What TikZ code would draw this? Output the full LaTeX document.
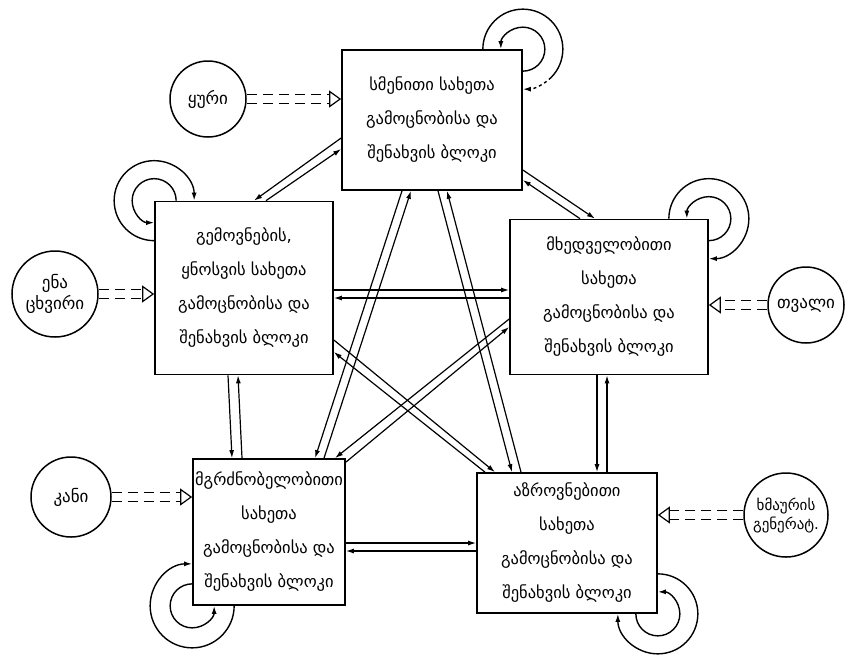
\documentclass[tikz,border=0pt]{standalone}
\usepackage{fontspec}
\setmainfont{DejaVu Sans}
\usetikzlibrary{arrows.meta,decorations.markings,positioning}

\begin{document}
\begin{tikzpicture}[
        x=1pt, y=1pt,
        font=\fontsize{16.5}{34}\selectfont,
        >={Latex[length=8pt,width=5pt]},
        block/.style={
            rectangle,
            draw,
            line width=1.7pt,
            align=center,
            inner sep=0pt
        },
        organ/.style={
            circle,
            draw,
            line width=1.5pt,
            align=center,
            inner sep=0pt,
            font=\fontsize{17}{21}\selectfont
        },
        link/.style={
            ->,
            line width=1.2pt
        },
        loopline/.style={
            line width=1.4pt
        },
        feed/.style={
            preaction={draw, dash pattern=on 10pt off 6pt, line width=1.2pt,
                shorten >=11pt, transform canvas={yshift=4.5pt}},
            preaction={draw, dash pattern=on 10pt off 6pt, line width=1.2pt,
                shorten >=11pt, transform canvas={yshift=-4.5pt}},
            postaction={decorate, decoration={markings, mark=at position 1 with
                {\arrow[line width=1.2pt]{Triangle[open, length=12pt, width=17pt]}}}}
        }
    ]
    \useasboundingbox (0,0) rectangle (845,-657);
    % Recognition blocks
    \node[block, minimum width=180pt, minimum height=140pt] (sound) at (432,-120)
        {სმენითი სახეთა\\გამოცნობისა და\\შენახვის ბლოკი};
    \node[block, minimum width=178pt, minimum height=173pt] (taste) at (244,-288)
        {გემოვნების,\\ყნოსვის სახეთა\\გამოცნობისა და\\შენახვის ბლოკი};
    \node[block, minimum width=198pt, minimum height=155pt] (vision) at (609,-297)
        {მხედველობითი\\სახეთა\\გამოცნობისა და\\შენახვის ბლოკი};
    \node[block, minimum width=152pt, minimum height=146pt] (touch) at (269,-532)
        {მგრძნობელობითი\\სახეთა\\გამოცნობისა და\\შენახვის ბლოკი};
    \node[block, minimum width=180pt, minimum height=140pt] (think) at (567,-543)
        {აზროვნებითი\\სახეთა\\გამოცნობისა და\\შენახვის ბლოკი};
    % Inputs
    \node[organ, minimum size=76pt] (ear) at (208,-99) {ყური};
    \node[organ, minimum size=86pt] (nose) at (55,-294) {ენა\\ცხვირი};
    \node[organ, minimum size=80pt] (skin) at (71,-497) {კანი};
    \node[organ, minimum size=76pt] (eye) at (806,-305) {თვალი};
    \node[organ, minimum size=84pt, font=\fontsize{15}{19}\selectfont] (noise) at (786,-515)
        {ხმაურის\\გენერატ.};
    % Input arrows
    \path[feed] (ear.east) -- (ear.east -| sound.west);
    \path[feed] (nose.east) -- (nose.east -| taste.west);
    \path[feed] (skin.east) -- (skin.east -| touch.west);
    \path[feed] (eye.west) -- (eye.west -| vision.east);
    \path[feed] (noise.west) -- (noise.west -| think.east);
    % Links between blocks
    \draw[link] ([yshift=-18pt]sound.west) -- ([xshift=10pt]taste.north);
    \draw[link] ([xshift=22pt]taste.north) -- ([yshift=-29pt]sound.west);
    \draw[link] ([yshift=-50pt]sound.east) -- ([xshift=-14pt]vision.north);
    \draw[link] ([xshift=-29pt]vision.north) -- ([yshift=-60pt]sound.east);
    \draw[link] ([xshift=-30pt]sound.south) -- ([xshift=46pt]touch.north);
    \draw[link] ([xshift=55pt]touch.north) -- ([xshift=-21pt]sound.south);
    \draw[link] ([xshift=6pt]sound.south) -- ([xshift=-55pt]think.north);
    \draw[link] ([xshift=-46pt]think.north) -- ([xshift=15pt]sound.south);
    \draw[link] ([yshift=-2pt]taste.east) -- ([yshift=-2pt]taste.east -| vision.west);
    \draw[link] ([yshift=-10pt]taste.east -| vision.west) -- ([yshift=-10pt]taste.east);
    \draw[link] ([xshift=-16pt]taste.south) -- ([xshift=-37pt]touch.north);
    \draw[link] ([xshift=-27pt]touch.north) -- ([xshift=-6pt]taste.south);
    \draw[link] ([yshift=-52pt]taste.east) -- ([xshift=-72pt]think.north);
    \draw[link] ([xshift=-82pt]think.north) -- ([yshift=-64pt]taste.east);
    \draw[link] ([yshift=-22pt]vision.west) -- ([xshift=66pt]touch.north);
    \draw[link] ([yshift=-4pt]touch.north east) -- ([yshift=-30pt]vision.west);
    \draw[link] ([xshift=-12pt]vision.south) -- ([xshift=30pt]think.north);
    \draw[link] ([xshift=40pt]think.north) -- ([xshift=-2pt]vision.south);
    \draw[link] ([yshift=-11pt]touch.east) -- ([yshift=-11pt]touch.east -| think.west);
    \draw[link] ([yshift=-19pt]touch.east -| think.west) -- ([yshift=-19pt]touch.east);
    % Self loops
    \draw[loopline] ([xshift=-40pt]sound.north east) arc[start angle=180, end angle=-45, radius=40pt];
    \draw[loopline, ->, dashed] ([shift={(-45:40pt)}]sound.north east) arc[start angle=-45, end angle=-90, radius=40pt];
    \draw[loopline, ->] ([yshift=-22pt]sound.north east) arc[start angle=-90, end angle=180, radius=22pt];
    \draw[loopline, ->] ([yshift=-40pt]taste.north west) arc[start angle=270, end angle=0, radius=40pt];
    \draw[loopline, ->] ([xshift=22pt]taste.north west) arc[start angle=0, end angle=270, radius=22pt];
    \draw[loopline, ->] ([xshift=-40pt]vision.north east) arc[start angle=180, end angle=-90, radius=40pt];
    \draw[loopline, ->] ([yshift=-22pt]vision.north east) arc[start angle=-90, end angle=180, radius=22pt];
    \draw[loopline, ->] ([xshift=42pt]touch.south west) arc[start angle=0, end angle=-270, radius=42pt];
    \draw[loopline, ->] ([yshift=22pt]touch.south west) arc[start angle=90, end angle=360, radius=22pt];
    \draw[loopline, ->] ([yshift=40pt]think.south east) arc[start angle=90, end angle=-180, radius=40pt];
    \draw[loopline, ->] ([xshift=-22pt]think.south east) arc[start angle=180, end angle=450, radius=22pt];
\end{tikzpicture}
\end{document}
